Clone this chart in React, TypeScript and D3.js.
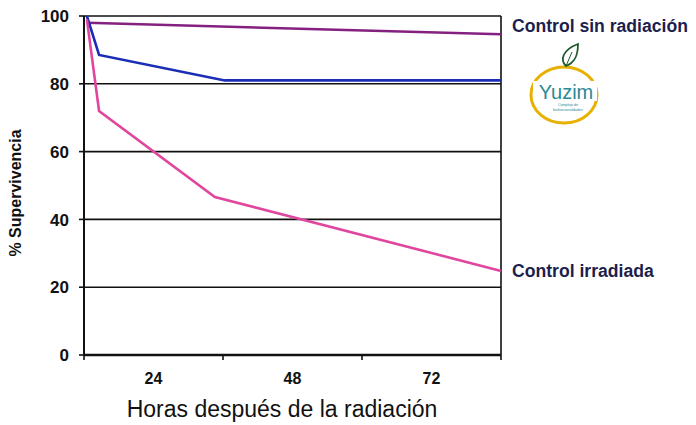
import React from "react";
import * as d3 from "d3";

const sinRadiacion = [{ h: 0.5, v: 98 }, { h: 72, v: 94.6 }];
const intermedia = [{ h: 0.5, v: 100 }, { h: 2.6, v: 88.5 }, { h: 24.3, v: 81 }, { h: 72, v: 81 }];
const irradiada = [{ h: 0.5, v: 99 }, { h: 2.6, v: 72 }, { h: 22.6, v: 46.6 }, { h: 72, v: 24.8 }];
const yTicks = [0, 20, 40, 60, 80, 100];
const xTickBounds = [0, 24, 48, 72];
const xLabels = ["24", "48", "72"];

const W = 696, H = 425;
const L = 84, R = 501, T = 16, B = 355;

export default function App() {
  const x = d3.scaleLinear().domain([0, 72]).range([L, R]);
  const y = d3.scaleLinear().domain([0, 100]).range([B, T]);
  const line = d3.line<{ h: number; v: number }>().x(d => x(d.h)).y(d => y(d.v));
  const font = "Arial, 'Liberation Sans', sans-serif";
  const labelColor = "#1c1f4d";
  return (
    <svg width={W} height={H} style={{ position: "absolute", left: 0, top: 0, background: "#fff" }} fontFamily={font}>
      <rect width={W} height={H} fill="#fff" />
      {yTicks.filter(t => t > 0).map(t => (
        <line key={t} x1={L} x2={R} y1={y(t)} y2={y(t)} stroke="#111" strokeWidth={1.6} />
      ))}
      {yTicks.map(t => (
        <g key={"yt" + t}>
          <line x1={L - 5} x2={L} y1={y(t)} y2={y(t)} stroke="#111" strokeWidth={1.6} />
          <text x={69} y={y(t)} dy="0.36em" textAnchor="end" fontSize={17} fontWeight="bold" fill="#111">{t}</text>
        </g>
      ))}
      <line x1={L} x2={L} y1={T} y2={B} stroke="#111" strokeWidth={2} />
      <line x1={R} x2={R} y1={T} y2={B} stroke="#111" strokeWidth={1.6} />
      <line x1={L} x2={R} y1={B} y2={B} stroke="#111" strokeWidth={2.6} />
      {xTickBounds.map(t => (
        <line key={"xt" + t} x1={x(t)} x2={x(t)} y1={B} y2={B + 5} stroke="#111" strokeWidth={1.6} />
      ))}
      {xLabels.map((lab, i) => (
        <text key={lab} x={(x(xTickBounds[i]) + x(xTickBounds[i + 1])) / 2} y={384} textAnchor="middle" fontSize={16} fontWeight="bold" fill="#111">{lab}</text>
      ))}
      <text x={282} y={417} textAnchor="middle" fontSize={23} fill="#111">Horas después de la radiación</text>
      <text transform={`translate(21,${193}) rotate(-90)`} textAnchor="middle" fontSize={16} fontWeight="bold" fill="#111">% Supervivencia</text>
      <path d={line(sinRadiacion) || ""} fill="none" stroke="#84207f" strokeWidth={2.6} />
      <path d={line(intermedia) || ""} fill="none" stroke="#1b2db5" strokeWidth={2.6} />
      <path d={line(irradiada) || ""} fill="none" stroke="#e0469e" strokeWidth={2.6} />
      <text x={512} y={32} fontSize={17.6} fontWeight="bold" fill={labelColor}>Control sin radiación</text>
      <text x={512} y={277} fontSize={17.6} fontWeight="bold" fill={labelColor}>Control irradiada</text>
      <g>
        <ellipse cx={564} cy={95} rx={33} ry={28} fill="none" stroke="#e8b000" strokeWidth={3} />
        <path d="M566,66 C560,60 562,50 578,44 C578,57 574,63 566,66 Z" fill="#fff" stroke="#1f5a2c" strokeWidth={1.8} />
        <path d="M566,66 L572,52" stroke="#1f5a2c" strokeWidth={1} />
        <rect x={533} y={81} width={64} height={20} fill="#fff" />
        <text x={566} y={99} textAnchor="middle" fontSize={20} fill="#2a8a95">Yuzim</text>
        <text x={568} y={106} textAnchor="middle" fontSize={3.6} fill="#2a8a95">Complejo de</text>
        <text x={568} y={111} textAnchor="middle" fontSize={3.6} fill="#2a8a95">biofuncionalidades</text>
      </g>
    </svg>
  );
}
